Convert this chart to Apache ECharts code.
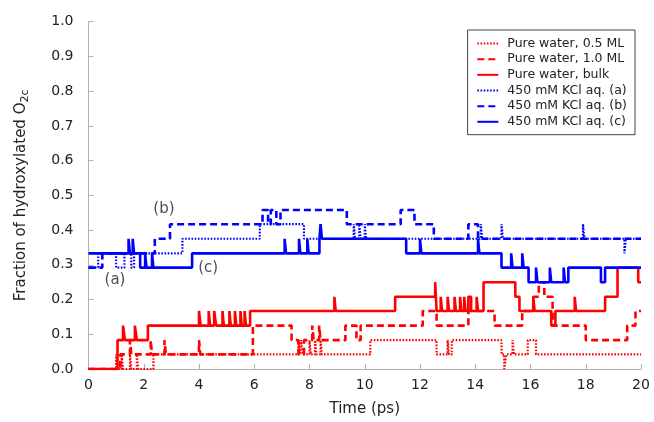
<!DOCTYPE html>
<html><head><meta charset="utf-8">
<script src="https://cdn.jsdelivr.net/npm/echarts@6/dist/echarts.min.js"></script>
<style>html,body{margin:0;padding:0;background:#fff}#c{width:654px;height:422px}</style>
</head><body><div id="c"></div>
<script>
// ---- data (change points: value holds from t until the next t) ----
const seriesNames = ['Pure water, 0.5 ML','Pure water, 1.0 ML','Pure water, bulk','450 mM KCl aq. (a)','450 mM KCl aq. (b)','450 mM KCl aq. (c)'];
const xTicks = [0,2,4,6,8,10,12,14,16,18,20];
const yTicks = [0,0.1,0.2,0.3,0.4,0.5,0.6,0.7,0.8,0.9,1.0];

const t_pw05 = [0,1.0,1.05,1.2,1.25,1.5,1.55,1.75,1.8,2.35,7.6,7.65,7.7,7.75,8.0,8.05,8.2,8.25,8.4,8.45,10.2,12.6,13.0,13.05,13.15,14.95,15.05,15.12,15.35,15.4,15.9,16.2];
const v_pw05 = [0,0.042,0,0.042,0,0.042,0,0.042,0,0.042,0.083,0.042,0.083,0.042,0.083,0.042,0.083,0.042,0.083,0.042,0.083,0.042,0.083,0.042,0.083,0.042,0,0.042,0.083,0.042,0.083,0.042];

const t_pw10 = [0,1.15,1.5,1.55,2.25,2.3,2.75,2.8,4.0,4.05,5.95,7.35,7.6,7.8,8.1,8.15,8.35,8.4,9.3,9.7,9.85,12.1,12.6,13.75,14.7,15.7,16.1,16.3,16.5,16.8,18.0,19.5,19.8];
const v_pw10 = [0,0.042,0.083,0.042,0.083,0.042,0.083,0.042,0.083,0.042,0.125,0.083,0.042,0.083,0.125,0.083,0.125,0.083,0.125,0.083,0.125,0.167,0.125,0.167,0.125,0.167,0.208,0.25,0.208,0.125,0.083,0.125,0.167];

const t_bulk = [0,1.05,1.25,1.32,1.68,1.75,2.15,4.0,4.06,4.35,4.4,4.55,4.62,4.85,4.9,5.1,5.15,5.3,5.35,5.5,5.55,5.65,5.7,5.85,8.9,8.95,11.1,12.55,12.6,12.75,12.8,13.0,13.05,13.25,13.3,13.45,13.5,13.6,13.65,13.75,13.85,14.05,14.1,14.3,15.45,15.6,16.1,16.15,16.75,16.9,17.6,17.65,18.7,19.15,19.9];
const v_bulk = [0,0.083,0.125,0.083,0.125,0.083,0.125,0.167,0.125,0.167,0.125,0.167,0.125,0.167,0.125,0.167,0.125,0.167,0.125,0.167,0.125,0.167,0.125,0.167,0.208,0.167,0.208,0.25,0.167,0.208,0.167,0.208,0.167,0.208,0.167,0.208,0.167,0.208,0.167,0.208,0.167,0.208,0.167,0.25,0.208,0.167,0.208,0.167,0.125,0.167,0.208,0.167,0.208,0.292,0.25];

const t_kA = [0,0.35,1.0,1.3,1.55,1.65,3.4,6.2,7.8,9.6,9.65,9.8,9.85,10.0,10.05,14.2,14.25,14.95,15.0,15.2,17.9,17.95,19.4,19.45];
const v_kA = [0.292,0.333,0.292,0.333,0.292,0.333,0.375,0.417,0.375,0.417,0.375,0.417,0.375,0.417,0.375,0.417,0.375,0.417,0.375,0.375,0.417,0.375,0.333,0.375];

const t_kB = [0,0.5,2.4,2.95,6.3,6.5,6.6,6.8,6.95,9.35,11.3,11.8,12.5,13.75,14.1];
const v_kB = [0.292,0.333,0.375,0.417,0.458,0.417,0.458,0.417,0.458,0.417,0.458,0.417,0.375,0.417,0.375];

const t_kC = [0,1.45,1.5,1.6,1.65,1.87,2.05,2.1,2.3,2.35,3.75,7.1,7.15,7.62,7.67,7.92,7.97,8.36,8.4,8.45,11.5,12.0,12.05,14.1,14.15,14.95,15.3,15.35,15.7,15.75,15.93,16.2,16.25,16.7,16.75,17.2,17.25,17.37,18.55,18.7];
const v_kC = [0.333,0.375,0.333,0.375,0.333,0.292,0.333,0.292,0.333,0.292,0.333,0.375,0.333,0.375,0.333,0.375,0.333,0.375,0.417,0.375,0.333,0.375,0.333,0.375,0.333,0.292,0.333,0.292,0.333,0.292,0.25,0.292,0.25,0.292,0.25,0.292,0.25,0.292,0.25,0.292];

const annoText = ['(a)','(b)','(c)'];
const annoT = [0.96,2.73,4.33];
const annoV = [0.255,0.459,0.29];

// ---- build ----
const FONT = 'DejaVu Sans';
function steps(ts, vs){ const d = ts.map((t,i)=>[t, vs[i]]); d.push([20, vs[vs.length-1]]); return d; }
const colors = ['#ff0000','#ff0000','#ff0000','#0000ff','#0000ff','#0000ff'];
const dashes = [[1.6,1.6],[7,4],'solid',[1.6,1.6],[7,4],'solid'];
const widths = [2.2,2.6,2.6,2.2,2.6,2.6];
const allT = [t_pw05,t_pw10,t_bulk,t_kA,t_kB,t_kC];
const allV = [v_pw05,v_pw10,v_bulk,v_kA,v_kB,v_kC];

const series = seriesNames.map((n,i)=>({
  name:n, type:'line', step:'end', showSymbol:false, symbol:'circle', symbolSize:0, animation:false,
  data: steps(allT[i], allV[i]),
  lineStyle:{color:colors[i], width:widths[i], type:dashes[i], cap:'butt'},
  itemStyle:{color:colors[i], opacity:0}
}));
series.push({
  type:'scatter', name:'anno', symbolSize:0, animation:false, silent:true,
  data: annoT.map((t,i)=>({value:[t, annoV[i]], name: annoText[i]})),
  label:{show:true, position:'inside', formatter: p=>p.name, fontFamily:FONT, fontSize:15, color:'#222'}
});

const chart = echarts.init(document.getElementById('c'), null, {renderer:'canvas'});
chart.setOption({
  backgroundColor:'#fff',
  textStyle:{fontFamily:FONT},
  grid:{left:88.5, right:13, top:21.7, bottom:50.3, containLabel:false},
  legend:{
    data: seriesNames, orient:'vertical', right:19, top:30,
    itemWidth:21, itemHeight:14, itemGap:2.66, padding:[7,8,6.4,8.7],
    itemStyle:{opacity:0, borderWidth:0},
    borderColor:'#444', borderWidth:1, backgroundColor:'#fff',
    textStyle:{fontFamily:FONT, fontSize:12.5, color:'#222', padding:[0,0,0,4]}
  },
  xAxis:{
    type:'value', min:0, max:20, interval:2,
    name:'Time (ps)', nameLocation:'middle', nameGap:33,
    nameTextStyle:{fontFamily:FONT, fontSize:15, color:'#222'},
    axisLine:{show:true, lineStyle:{color:'#b0b0b0', width:1}},
    axisTick:{show:true, inside:true, length:5, lineStyle:{color:'#b0b0b0'}},
    axisLabel:{fontFamily:FONT, fontSize:14, color:'#222', margin:9},
    splitLine:{show:false}
  },
  yAxis:{
    type:'value', min:0, max:1, interval:0.1,
    name:'Fraction of hydroxylated O{sub|2c}', nameLocation:'middle', nameGap:58,
    nameTextStyle:{fontFamily:FONT, fontSize:15, color:'#222',
      rich:{sub:{fontFamily:FONT, fontSize:11, color:'#222', verticalAlign:'bottom', padding:[7,0,0,0]}}},
    axisLine:{show:true, lineStyle:{color:'#b0b0b0', width:1}},
    axisTick:{show:true, inside:true, length:5, lineStyle:{color:'#b0b0b0'}},
    axisLabel:{fontFamily:FONT, fontSize:14, color:'#222', margin:15, formatter:v=>v.toFixed(1)},
    splitLine:{show:false}
  },
  series: series
});
</script></body></html>
